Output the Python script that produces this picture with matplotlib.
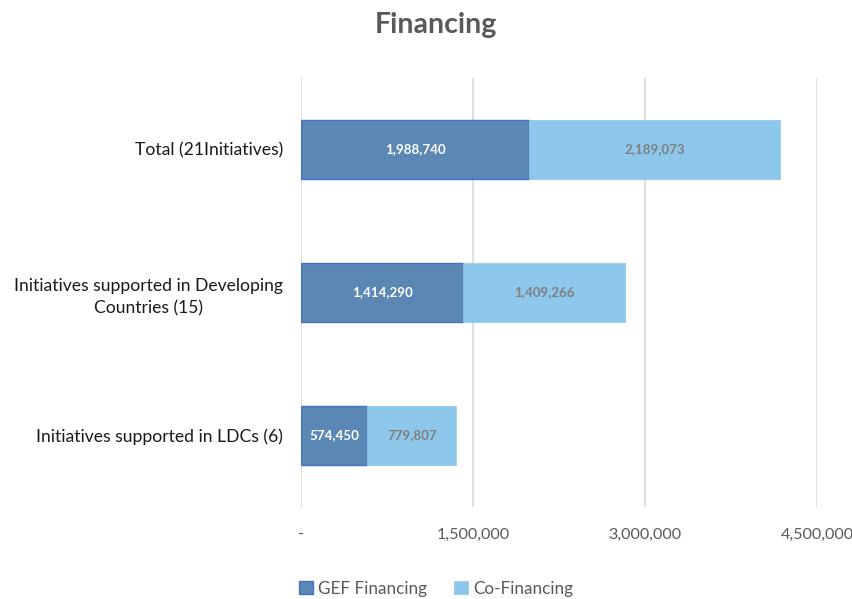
import matplotlib
matplotlib.use('Agg')
import matplotlib.pyplot as plt
from matplotlib.ticker import FuncFormatter

plt.rcParams['font.family'] = ['Lato', 'DejaVu Sans']

categories = ['Total (21Initiatives)',
              'Initiatives supported in Developing\nCountries (15)',
              'Initiatives supported in LDCs (6)']
gef = [1988740, 1414290, 574450]
cofin = [2189073, 1409266, 779807]
ticks = [0, 1500000, 3000000, 4500000]

fig = plt.figure(figsize=(8.53, 5.99), dpi=100)
ax = fig.add_axes([0.353, 0.154, 0.605, 0.716])

y = list(range(len(categories)))
h = 0.41
b1 = ax.barh(y, gef, height=h, color='#5B87B4', edgecolor='#4472C4', linewidth=1.0,
             label='GEF Financing', zorder=3)
b2 = ax.barh(y, cofin, left=gef, height=h, color='#8DC8EC', edgecolor='#8DC8EC',
             linewidth=0.5, label='Co-Financing', zorder=3)

for rect, v in zip(b1, gef):
    ax.text(rect.get_x() + rect.get_width() / 2, rect.get_y() + h / 2, f'{v:,}',
            ha='center', va='center', color='white', fontsize=9.6, fontweight='bold', zorder=4)
for rect, v in zip(b2, cofin):
    ax.text(rect.get_x() + rect.get_width() / 2, rect.get_y() + h / 2, f'{v:,}',
            ha='center', va='center', color='#7F7F7F', fontsize=9.6, fontweight='bold', zorder=4)

ax.set_ylim(len(categories) - 0.5, -0.5)
ax.set_xlim(0, 4500000)
ax.set_xticks(ticks)
ax.xaxis.set_major_formatter(FuncFormatter(lambda v, p: '-' if v == 0 else f'{int(v):,}'))
ax.set_yticks(y)
ax.set_yticklabels(categories, fontsize=12.6, color='#1a1a1a', ha='right',
                   multialignment='center', linespacing=1.5)
ax.tick_params(axis='y', length=0, pad=13)
ax.tick_params(axis='x', length=0, labelsize=11.6, labelcolor='#595959', pad=15)
ax.grid(axis='x', color='#D9D9D9', linewidth=1.2, zorder=0)
for s in ax.spines.values():
    s.set_visible(False)

fig.suptitle('Financing', x=0.511, y=0.98, fontsize=20.5, fontweight='bold', color='#595959')
fig.legend(loc='lower center', bbox_to_anchor=(0.511, -0.022), ncol=2, frameon=False,
           fontsize=12.3, labelcolor='#595959', handlelength=0.8, handleheight=0.8,
           handletextpad=0.3, columnspacing=1.6)

fig.savefig('out.png', dpi=100)
